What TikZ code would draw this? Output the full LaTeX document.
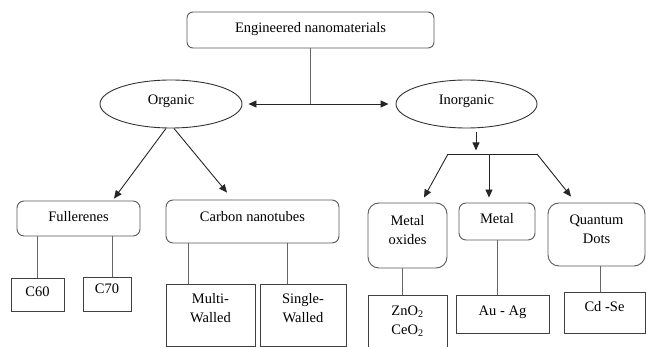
\documentclass[tikz,border=0pt]{standalone}
\usepackage{fontspec}
\setmainfont{Liberation Serif}
\usetikzlibrary{arrows.meta,shapes.geometric}
\tikzstyle{box} = [rectangle, rounded corners=7pt, draw=black!65, line width=0.9pt, inner sep=0pt]
\tikzstyle{leaf} = [rectangle, draw=black!75, line width=0.9pt, inner sep=0pt]
\tikzstyle{oval} = [ellipse, draw=black!80, line width=0.9pt, inner sep=0pt]
\tikzstyle{twoline} = [align=center]
\tikzstyle{wire} = [draw=black!60, line width=0.9pt]
\tikzstyle{pointer} = [draw=black!85, line width=0.9pt, -{Triangle[length=8pt,width=7pt]}]
\tikzset{oneline/.style={text height=10pt, text depth=#1}}
\newcommand{\sink}[1]{\rule[-#1pt]{0pt}{#1pt}}

\begin{document}
\begin{tikzpicture}[x=1pt, y=-1pt, font=\fontsize{14.5}{19}\selectfont]
\useasboundingbox (0,0) rectangle (646,347);

% top level
\node (top) [box, oneline=5pt, rounded corners=6pt, minimum width=247pt, minimum height=36pt] at (310.5,30) {Engineered nanomaterials};
\node (org) [oval, oneline=8pt, minimum width=142pt, minimum height=48pt] at (171,104) {Organic};
\node (inorg) [oval, oneline=8pt, minimum width=141pt, minimum height=48pt] at (466.5,104) {Inorganic};

\coordinate (split) at (top.south |- org.east);
\draw [wire] (top.south) -- (split);
\draw [pointer] (split) -- ([xshift=6pt]org.east);
\draw [pointer] (split) -- ([xshift=-7pt]inorg.west);

% organic side
\node (ful) [box, oneline=4pt, minimum width=123pt, minimum height=35pt] at (78.5,218.5) {Fullerenes};
\node (cnt) [box, oneline=10pt, minimum width=173pt, minimum height=43pt] at (252.5,221.5) {Carbon nanotubes};
\draw [pointer] ([xshift=-5pt]org.south) -- ([xshift=35.5pt,yshift=2pt]ful.north);
\draw [pointer] ([xshift=3pt]org.south) -- ([xshift=-25.5pt,yshift=7pt]cnt.north);

\node (c60) [leaf, oneline=5pt, minimum width=53pt, minimum height=33pt] at (37.5,294.5) {C60};
\node (c70) [leaf, oneline=10pt, minimum width=48pt, minimum height=34pt] at (107,294) {C70};
\node (multi) [leaf, twoline, minimum width=89pt, minimum height=62pt] at (210.5,315) {Multi-\\Walled\sink{14}};
\node (single) [leaf, twoline, minimum width=86pt, minimum height=62pt] at (303,315) {Single-\\Walled\sink{14}};
\draw [wire] ([xshift=-41pt]ful.south) -- (c60.north);
\draw [wire] ([xshift=33.5pt]ful.south) -- ([xshift=5pt]c70.north);
\draw [wire] ([xshift=-64.5pt]cnt.south) -- ([xshift=-22.5pt]multi.north);
\draw [wire] ([xshift=34.5pt]cnt.south) -- ([xshift=-16pt]single.north);

% inorganic side
\coordinate (barl) at (448,154);
\coordinate (barm) at (489,154);
\coordinate (barr) at (537,154);
\draw [pointer] ([xshift=9.5pt,yshift=-4pt]inorg.south) -- ++(0,18);
\draw [wire, draw=black!85] (barl) -- (barr);

\node (mox) [box, twoline, rounded corners=11pt, minimum width=79pt, minimum height=65pt] at (407.5,235.5) {Metal\\oxides\sink{12}};
\node (metal) [box, oneline=5pt, minimum width=76pt, minimum height=37pt] at (497,221.5) {Metal};
\node (qd) [box, twoline, rounded corners=11pt, minimum width=97pt, minimum height=63pt] at (596.5,234.5) {Quantum\\Dots\sink{11}};
\draw [pointer] (barl) -- ([xshift=16.5pt,yshift=5pt]mox.north);
\draw [pointer] (barm) -- ([xshift=-8pt,yshift=5pt]metal.north);
\draw [pointer] (barr) -- ([xshift=-25.5pt,yshift=6pt]qd.north);

\node (zno) [leaf, twoline, minimum width=79pt, minimum height=56pt] at (407.5,323) {ZnO\textsubscript{2}\\CeO\textsubscript{2}\sink{6}};
\node (auag) [leaf, oneline=6pt, minimum width=93pt, minimum height=38pt] at (502.5,314) {Au - Ag};
\node (cdse) [leaf, oneline=12pt, minimum width=81pt, minimum height=41pt] at (604.5,312.5) {Cd -Se};
\draw [wire] ([xshift=-5.5pt]mox.south) -- ([xshift=-5.5pt]zno.north);
\draw [wire] (metal.south) -- ([xshift=-5.5pt]auag.north);
\draw [wire] ([xshift=3.5pt]qd.south) -- ([xshift=-4.5pt]cdse.north);
\end{tikzpicture}
\end{document}
